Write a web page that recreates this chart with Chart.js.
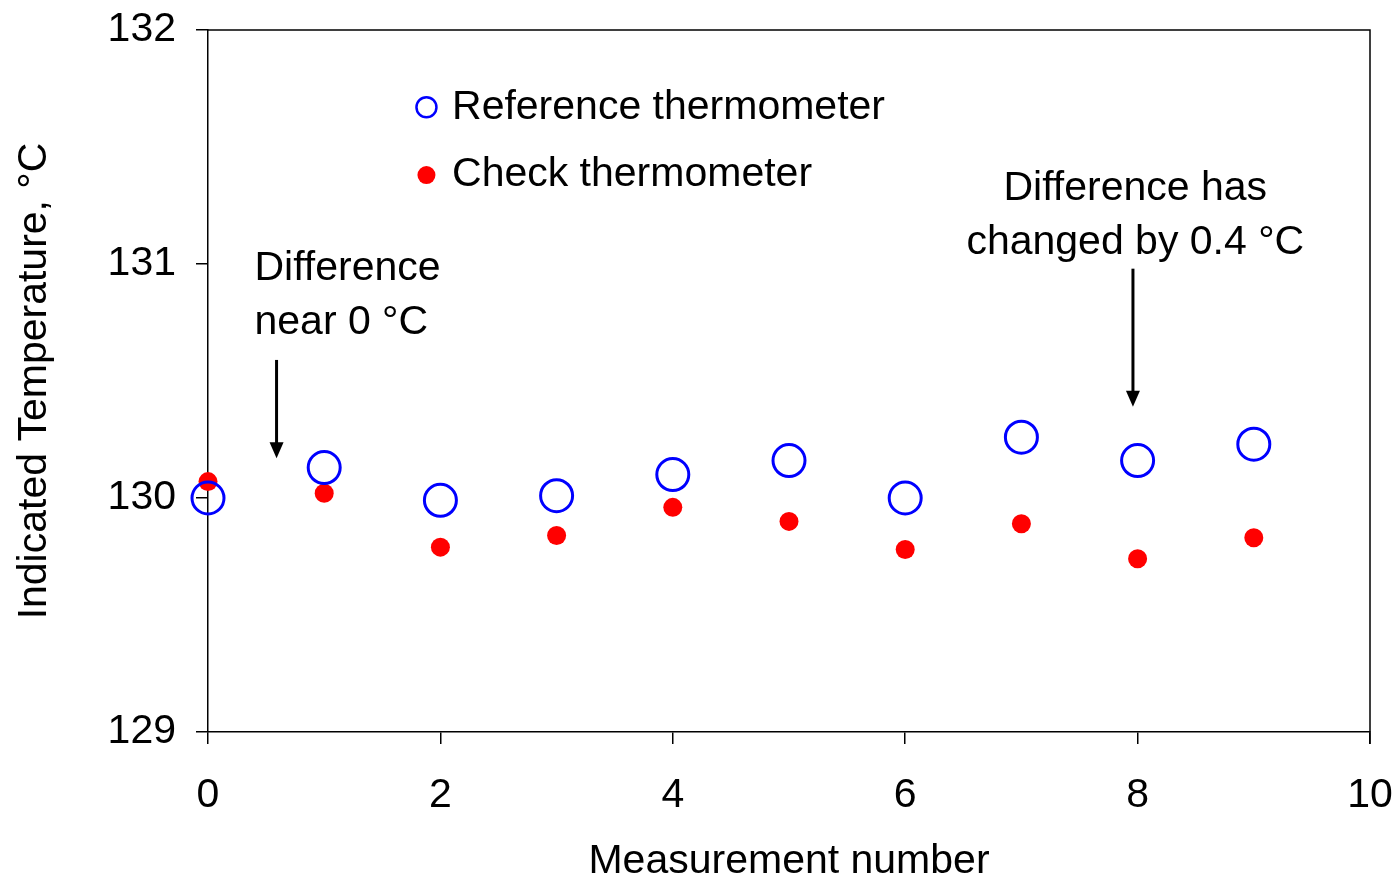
<!DOCTYPE html>
<html>
<head>
<meta charset="utf-8">
<script src="https://cdn.jsdelivr.net/npm/chart.js@4.4.1/dist/chart.umd.min.js"></script>
<style>
  html, body { margin: 0; padding: 0; background: #fff; }
  #wrap { width: 1399px; height: 882px; }
</style>
</head>
<body>
<div id="wrap"><canvas id="tempChart" width="1399" height="882"></canvas></div>
<script>
// measurement numbers and readings (deg C)
var measurements = [0, 1, 2, 3, 4, 5, 6, 7, 8, 9];
var referenceTemps = [130.00, 130.13, 129.99, 130.01, 130.10, 130.16, 130.00, 130.26, 130.16, 130.23];
var checkTemps = [130.07, 130.02, 129.79, 129.84, 129.96, 129.90, 129.78, 129.89, 129.74, 129.83];
var xTicks = [0, 2, 4, 6, 8, 10];
var yTicks = [129, 130, 131, 132];

var FONT = 'Arial, "Liberation Sans", sans-serif';
var FS = 41;

function toPoints(xs, ys) {
  return xs.map(function (x, i) { return { x: x, y: ys[i] }; });
}

// box round plot area + legend + text notes with arrows
var extras = {
  id: 'extras',
  afterDraw: function (chart) {
    var ctx = chart.ctx;
    var a = chart.chartArea;
    var xs = chart.scales.x, ys = chart.scales.y;
    var px = function (v) { return xs.getPixelForValue(v); };
    var py = function (v) { return ys.getPixelForValue(v); };

    ctx.save();
    ctx.strokeStyle = '#000';
    ctx.lineWidth = 1.5;
    ctx.beginPath();
    ctx.moveTo(a.left, a.top);
    ctx.lineTo(a.right, a.top);
    ctx.lineTo(a.right, a.bottom + 12);
    ctx.stroke();

    // legend
    ctx.font = FS + 'px ' + FONT;
    ctx.fillStyle = '#000';
    ctx.textBaseline = 'middle';
    ctx.textAlign = 'left';
    ctx.beginPath();
    ctx.arc(px(1.88), py(131.67), 10, 0, Math.PI * 2);
    ctx.strokeStyle = '#0000ff';
    ctx.lineWidth = 2.5;
    ctx.stroke();
    ctx.fillText('Reference thermometer', px(2.1), py(131.67));
    ctx.beginPath();
    ctx.arc(px(1.88), py(131.38), 9, 0, Math.PI * 2);
    ctx.fillStyle = '#ff0000';
    ctx.fill();
    ctx.fillStyle = '#000';
    ctx.fillText('Check thermometer', px(2.1), py(131.38));

    // notes
    ctx.fillText('Difference', px(0.4), py(130.98));
    ctx.fillText('near 0 \u00B0C', px(0.4), py(130.75));
    ctx.textAlign = 'center';
    ctx.fillText('Difference has', px(7.98), py(131.32));
    ctx.fillText('changed by 0.4 \u00B0C', px(7.98), py(131.09));

    function arrow(x, y1, y2) {
      var X = px(x), Y1 = py(y1), Y2 = py(y2);
      ctx.strokeStyle = '#000';
      ctx.fillStyle = '#000';
      ctx.lineWidth = 3;
      ctx.beginPath();
      ctx.moveTo(X, Y1);
      ctx.lineTo(X, Y2 - 14);
      ctx.stroke();
      ctx.beginPath();
      ctx.moveTo(X - 7, Y2 - 16);
      ctx.lineTo(X + 7, Y2 - 16);
      ctx.lineTo(X, Y2);
      ctx.closePath();
      ctx.fill();
    }
    arrow(0.59, 130.59, 130.17);
    arrow(7.96, 130.98, 130.39);
    ctx.restore();
  }
};

var ctx = document.getElementById('tempChart').getContext('2d');
var chart = new Chart(ctx, {
  type: 'scatter',
  data: {
    datasets: [
      {
        label: 'Reference thermometer',
        data: toPoints(measurements, referenceTemps),
        pointStyle: 'circle',
        pointRadius: 16,
        pointBorderWidth: 3,
        borderColor: '#0000ff',
        backgroundColor: 'rgba(0,0,0,0)',
        clip: false
      },
      {
        label: 'Check thermometer',
        data: toPoints(measurements, checkTemps),
        pointStyle: 'circle',
        pointRadius: 9.5,
        pointBorderWidth: 0,
        borderColor: '#ff0000',
        backgroundColor: '#ff0000',
        clip: false
      }
    ]
  },
  options: {
    responsive: false,
    animation: false,
    devicePixelRatio: 1,
    layout: { padding: { left: 10, right: 29, top: 30, bottom: 0 } },
    plugins: {
      legend: { display: false },
      tooltip: { enabled: false }
    },
    scales: {
      x: {
        type: 'linear',
        min: 0,
        max: 10,
        afterBuildTicks: function (scale) {
          scale.ticks = xTicks.map(function (v) { return { value: v }; });
        },
        afterFit: function (scale) {
          scale.height = 150;
          scale.paddingLeft = 0;
          scale.paddingRight = 0;
        },
        grid: { drawOnChartArea: false, tickLength: 12, color: '#000', lineWidth: 1.5 },
        border: { display: true, color: '#000', width: 1.5 },
        ticks: { color: '#000', font: { family: FONT, size: FS }, padding: 27, maxRotation: 0 },
        title: {
          display: true,
          text: 'Measurement number',
          color: '#000',
          font: { family: FONT, size: FS, lineHeight: 1 },
          padding: { top: 17, bottom: 0 }
        }
      },
      y: {
        type: 'linear',
        min: 129,
        max: 132,
        afterBuildTicks: function (scale) {
          scale.ticks = yTicks.map(function (v) { return { value: v }; });
        },
        afterFit: function (scale) {
          scale.width = 198;
          scale.paddingTop = 0;
          scale.paddingBottom = 0;
        },
        grid: { drawOnChartArea: false, tickLength: 12, color: '#000', lineWidth: 1.5 },
        border: { display: true, color: '#000', width: 1.5 },
        ticks: { color: '#000', font: { family: FONT, size: FS }, padding: 20 },
        title: {
          display: true,
          text: 'Indicated Temperature, \u00B0C',
          color: '#000',
          font: { family: FONT, size: FS },
          padding: { top: 0, bottom: 0 }
        }
      }
    }
  },
  plugins: [extras]
});
</script>
</body>
</html>
